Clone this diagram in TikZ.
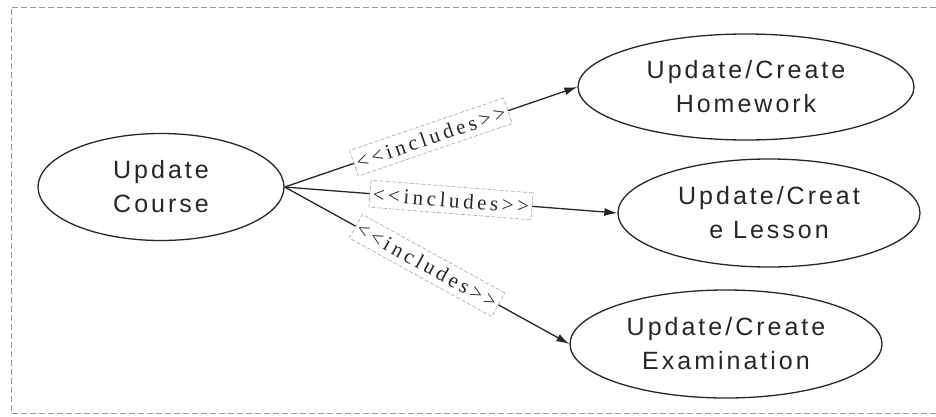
\documentclass[tikz,border=0pt]{standalone}
\usepackage{fontspec}
\setmainfont{Liberation Serif}
\newfontfamily\ucfont[LetterSpace=12]{Liberation Sans}
\newfontfamily\lblfont[LetterSpace=17]{Liberation Serif}
\usetikzlibrary{shapes.geometric,arrows.meta}
\begin{document}
\begin{tikzpicture}[x=1pt,y=1pt,
  usecase/.style={ellipse,draw=black!85,line width=1.3pt,inner sep=0pt,
    align=center,text=black!85,font=\ucfont\fontsize{25}{34}\selectfont},
  incl/.style={-{Latex[length=13pt,width=8pt]},line width=1.3pt,draw=black!85},
  lbl/.style={draw=black!35,dashed,dash pattern=on 4pt off 2pt,line width=0.6pt,fill=white,
    sloped,midway,inner xsep=3pt,inner ysep=2pt,minimum height=27pt,
    font=\lblfont\fontsize{21}{24}\selectfont,text=black!85},
  frame/.style={draw=black!40,line width=0.9pt,dash pattern=on 6pt off 3pt}]
\useasboundingbox (0,0) rectangle (936,416);
\coordinate (ftr) at (936,409);
\coordinate (ftl) at (11,409);
\coordinate (fbl) at (11,3);
\coordinate (fbr) at (936,3);
\draw[frame] (ftr) -- (ftl) -- (fbl) -- (fbr);
\node[usecase,minimum width=246pt,minimum height=107pt] (uc) at (161,229) {Update\\Course};
\node[usecase,minimum width=336pt,minimum height=106pt] (hw) at (746,329) {Update/Create\\Homework};
\node[usecase,minimum width=302pt,minimum height=108pt] (ls) at (769,203) {Update/Creat\\e Lesson};
\node[usecase,minimum width=312pt,minimum height=108pt] (ex) at (726,72) {Update/Create\\Examination};
\draw[incl] (uc.east) -- node[lbl] (l1) {<<includes>>} (hw.west);
\draw[incl] (uc.east) -- node[lbl] (l2) {<<includes>>} (ls.west);
\draw[incl] (uc.east) -- node[lbl] (l3) {<<includes>>} (ex.west);
\end{tikzpicture}
\end{document}
